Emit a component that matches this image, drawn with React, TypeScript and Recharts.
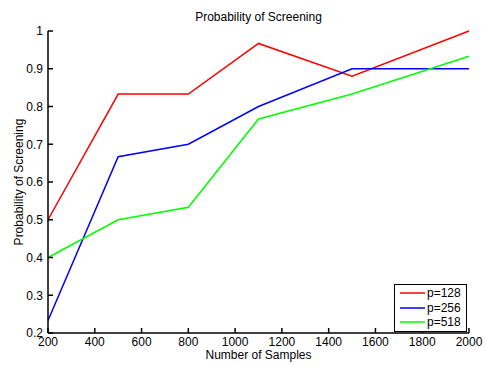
import React from 'react';
import { LineChart, Line, XAxis, YAxis, Legend } from 'recharts';

const samples = [200, 500, 800, 1100, 1500, 2000];
const p128 = [0.5, 0.833, 0.833, 0.967, 0.88, 1.0];
const p256 = [0.233, 0.667, 0.7, 0.8, 0.9, 0.9];
const p518 = [0.4, 0.5, 0.533, 0.767, 0.833, 0.933];

const xTicks = [200, 400, 600, 800, 1000, 1200, 1400, 1600, 1800, 2000];
const yTicks = [0.2, 0.3, 0.4, 0.5, 0.6, 0.7, 0.8, 0.9, 1];

const series = [
    { key: 'p128', name: 'p=128', color: '#ff0000' },
    { key: 'p256', name: 'p=256', color: '#0000ff' },
    { key: 'p518', name: 'p=518', color: '#00ff00' },
];

const data = samples.map((n, i) => ({ n, p128: p128[i], p256: p256[i], p518: p518[i] }));

const FONT = '"Liberation Sans", Arial, Helvetica, sans-serif';
const tickStyle = { fill: '#000', fontSize: 12, fontFamily: FONT };
const axisStyle = { stroke: '#000', strokeWidth: 1.5 };

// matlab style legend box
const LegendBox = () => (
    <div style={{ border: '1px solid #000', background: '#fff', padding: '1px 4px 1px 5px', fontFamily: FONT, fontSize: 12 }}>
        {series.map(s => (
            <div key={s.key} style={{ display: 'flex', alignItems: 'center', height: 14.5 }}>
                <svg width={25} height={4} style={{ marginRight: 2 }}>
                    <line x1={0} y1={2} x2={25} y2={2} stroke={s.color} strokeWidth={1.5} />
                </svg>
                <span>{s.name}</span>
            </div>
        ))}
    </div>
);

const App: React.FC = () => {
    return (
        <div style={{ position: 'absolute', left: 0, top: 0, width: 485, height: 365, background: '#fff', fontFamily: FONT }}>
            <div style={{ position: 'absolute', left: 48, width: 421, top: 10, textAlign: 'center', fontSize: 12, lineHeight: '14px' }}>
                Probability of Screening
            </div>
            <div style={{ position: 'absolute', left: 48, width: 421, top: 348, textAlign: 'center', fontSize: 12, lineHeight: '14px' }}>
                Number of Samples
            </div>
            <div style={{ position: 'absolute', left: 19, top: 182, width: 200, marginLeft: -100, marginTop: -7, textAlign: 'center', fontSize: 12, lineHeight: '14px', transform: 'rotate(-90deg)' }}>
                Probability of Screening
            </div>
            <LineChart width={485} height={365} data={data} margin={{ top: 31, right: 16, bottom: 12, left: 8 }}>
                <XAxis dataKey="n" type="number" domain={[200, 2000]} ticks={xTicks} height={20}
                    tickSize={-5} tickMargin={9} tick={tickStyle} axisLine={axisStyle} tickLine={axisStyle} />
                <XAxis xAxisId="top" orientation="top" type="number" domain={[200, 2000]} ticks={xTicks} height={0}
                    tickSize={-5} tick={false} axisLine={axisStyle} tickLine={axisStyle} />
                <YAxis type="number" domain={[0.2, 1]} ticks={yTicks} width={40}
                    tickSize={-5} tickMargin={10} tick={tickStyle} axisLine={axisStyle} tickLine={axisStyle} />
                <YAxis yAxisId="right" orientation="right" type="number" domain={[0.2, 1]} ticks={yTicks} width={0}
                    tickSize={-5} tick={false} axisLine={axisStyle} tickLine={axisStyle} />
                {series.map(s => (
                    <Line key={s.key} type="linear" dataKey={s.key} name={s.name} stroke={s.color} strokeWidth={1.5}
                        dot={false} activeDot={false} isAnimationActive={false} />
                ))}
                <Legend layout="vertical" align="center" verticalAlign="middle" content={<LegendBox />}
                    wrapperStyle={{ left: 394, top: 284, right: 'auto', bottom: 'auto', width: 73 }} />
            </LineChart>
        </div>
    );
};

export default App;
